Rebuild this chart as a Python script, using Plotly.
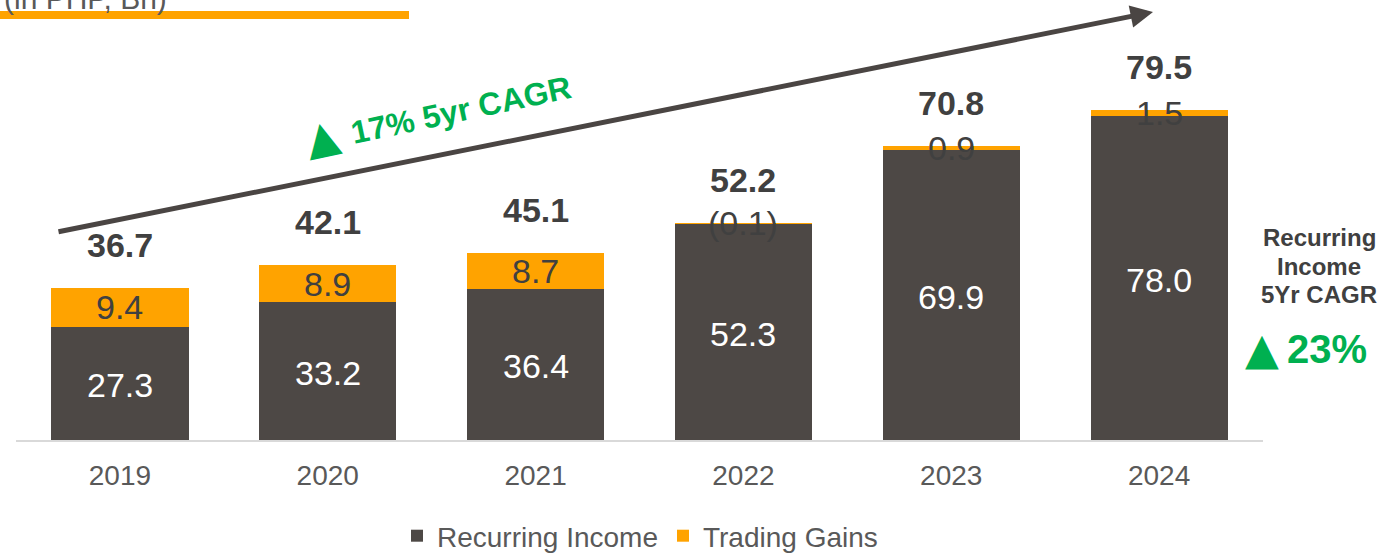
import plotly.graph_objects as go

years = ["2019", "2020", "2021", "2022", "2023", "2024"]
recurring = [27.3, 33.2, 36.4, 52.3, 69.9, 78.0]
trading = [9.4, 8.9, 8.7, -0.1, 0.9, 1.5]
totals = [36.7, 42.1, 45.1, 52.2, 70.8, 79.5]

W, H = 1378, 553
L, R, T, B = 16, 115, 50, 113
PW, PH = W - L - R, H - T - B
YMAX = 94.0

def px_x(px):
    return (px - L) / PW

def px_y(py):
    return (H - B - py) / PH

DARK = "#4d4845"
ORANGE = "#ffa300"
TEXT = "#404040"
GREEN = "#00b050"
FONT = "Liberation Sans, Arial, sans-serif"

fig = go.Figure()
fig.add_trace(go.Bar(x=years, y=recurring, name="Recurring Income",
                     marker=dict(color=DARK, line=dict(width=0)), width=0.66))
fig.add_trace(go.Bar(x=years, y=trading, name="Trading Gains",
                     marker=dict(color=ORANGE, line=dict(width=0)), width=0.66))

ann = []
for i, (r, t, tot) in enumerate(zip(recurring, trading, totals)):
    ann.append(dict(x=i, y=r / 2, xref="x", yref="y", text=f"{r:.1f}", showarrow=False,
                    xanchor="center", yanchor="middle", yshift=-2,
                    font=dict(size=34, color="white", family=FONT)))
    lab = f"({abs(t):.1f})" if t < 0 else f"{t:.1f}"
    ann.append(dict(x=i, y=r + t / 2, xref="x", yref="y", text=lab, showarrow=False,
                    xanchor="center", yanchor="middle",
                    font=dict(size=34, color=TEXT, family=FONT)))
    ann.append(dict(x=i, y=max(tot, r), xref="x", yref="y", text=f"<b>{tot:.1f}</b>",
                    showarrow=False, yshift=43, xanchor="center", yanchor="middle",
                    font=dict(size=34, color=TEXT, family=FONT)))

# growth arrow
ann.append(dict(x=px_x(1153), y=px_y(12), xref="paper", yref="paper", text="",
                showarrow=True, ax=57 - 1153, ay=232 - 12, arrowhead=2, arrowsize=0.9,
                arrowwidth=5, arrowcolor="#4a4543"))
ann.append(dict(x=px_x(322), y=px_y(136), xref="paper", yref="paper", text="▲",
                textangle=-12, showarrow=False, xanchor="center", yanchor="middle",
                font=dict(size=44, color=GREEN, family="DejaVu Sans")))
ann.append(dict(x=px_x(461), y=px_y(110), xref="paper", yref="paper",
                text="<b>17% 5yr CAGR</b>", textangle=-12, showarrow=False,
                xanchor="center", yanchor="middle",
                font=dict(size=32, color=GREEN, family=FONT)))
# right side note
for txt, py in [("Recurring", 238), ("Income", 266), ("5Yr CAGR", 294)]:
    ann.append(dict(x=px_x(1319), y=px_y(py), xref="paper", yref="paper",
                    text=f"<b>{txt}</b>", showarrow=False, xanchor="center",
                    yanchor="middle", font=dict(size=24, color=TEXT, family=FONT)))
ann.append(dict(x=px_x(1262), y=px_y(348), xref="paper", yref="paper", text="▲",
                showarrow=False, xanchor="center", yanchor="middle",
                font=dict(size=44, color=GREEN, family="DejaVu Sans")))
ann.append(dict(x=px_x(1327), y=px_y(349), xref="paper", yref="paper",
                text="<b>23%</b>", showarrow=False, xanchor="center", yanchor="middle",
                font=dict(size=40, color=GREEN, family=FONT)))
# unit title (cut off at top)
ann.append(dict(x=px_x(2), y=px_y(17), xref="paper", yref="paper", text="(in PHP, Bn)",
                showarrow=False, xanchor="left", yanchor="bottom",
                font=dict(size=30, color="#595959", family=FONT)))

shapes = [dict(type="rect", xref="paper", yref="paper", x0=px_x(0), x1=px_x(409),
               y0=px_y(19), y1=px_y(11), fillcolor=ORANGE, line=dict(width=0))]

fig.update_layout(
    width=W, height=H, barmode="stack",
    margin=dict(l=L, r=R, t=T, b=B, autoexpand=False),
    plot_bgcolor="white", paper_bgcolor="white",
    font=dict(family=FONT, color="#595959"),
    xaxis=dict(type="category", range=[-0.5, 5.5], showgrid=False, showline=True,
               linecolor="#d9d9d9", linewidth=2, ticks="",
               tickfont=dict(size=28, color="#595959"), ticklabelstandoff=9),
    yaxis=dict(range=[0, YMAX], visible=False),
    legend=dict(orientation="h", x=px_x(640), xanchor="center", y=px_y(536),
                yanchor="middle", font=dict(size=28, color="#595959"),
                itemwidth=30, traceorder="normal"),
    annotations=ann, shapes=shapes, showlegend=True,
)

fig.write_html("out.html", config={"displayModeBar": False},
               post_script="document.body.style.margin='0';")
